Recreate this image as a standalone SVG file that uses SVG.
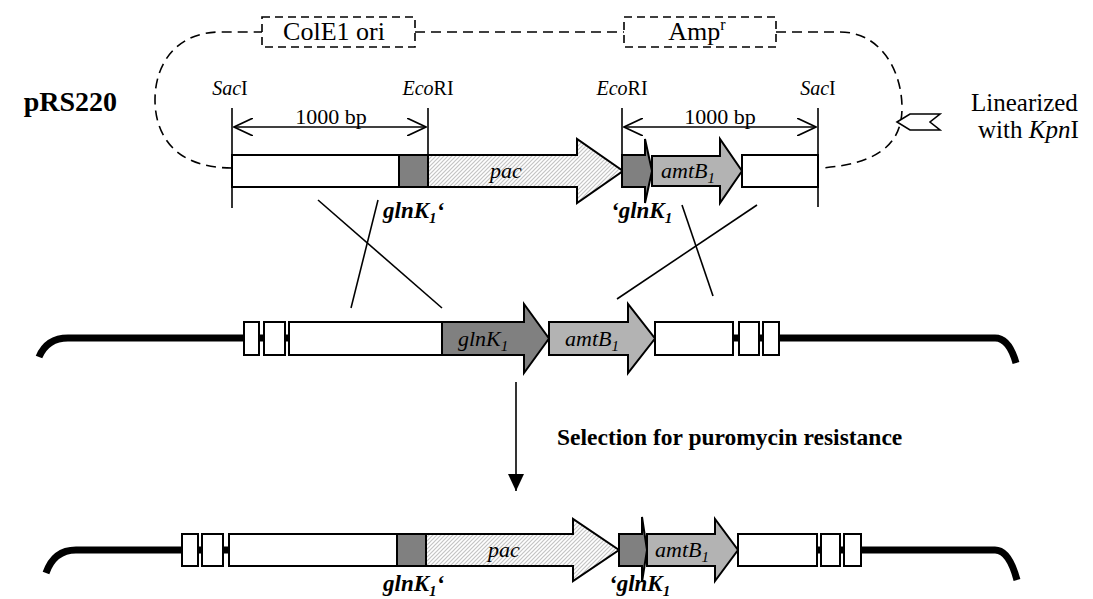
<svg xmlns="http://www.w3.org/2000/svg" width="1093" height="599" viewBox="0 0 1093 599" font-family="'Liberation Serif', 'Times New Roman', 'DejaVu Serif', serif">
<style>
text{font-family:'Liberation Serif','Times New Roman','DejaVu Serif',serif;fill:#000}
.box{fill:#fff;stroke:#000;stroke-width:2}
.dark{fill:#808080;stroke:#000;stroke-width:2}
.light{fill:#b3b3b3;stroke:#000;stroke-width:2}
.hatch{fill:url(#hatch);stroke:#000;stroke-width:2}
.dash{fill:none;stroke:#000;stroke-width:1.6;stroke-dasharray:10 6}
.dbox{fill:#fff;stroke:#000;stroke-width:1.6;stroke-dasharray:8 5}
.ln{fill:none;stroke:#000;stroke-width:1.6}
.thick{fill:none;stroke:#000;stroke-width:7}
.gene{font-style:italic;font-size:22px}
.lab{font-size:20px}
.bl{font-weight:bold;font-style:italic;font-size:23px}
</style>
<defs>
<pattern id="hatch" patternUnits="userSpaceOnUse" width="4" height="4">
<rect width="4" height="4" fill="#fff"/>
<path d="M-1,1 L1,-1 M0,4 L4,0 M3,5 L5,3" stroke="#c4c4c4" stroke-width="1.2"/>
</pattern>
<marker id="v" viewBox="0 0 20 18" refX="19" refY="9" markerWidth="20" markerHeight="18" markerUnits="userSpaceOnUse" orient="auto-start-reverse">
<path d="M0,0 L19,9 L0,18" fill="none" stroke="#000" stroke-width="1.6"/>
</marker>
<marker id="tri" viewBox="0 0 17 16" refX="17" refY="8" markerWidth="17" markerHeight="16" markerUnits="userSpaceOnUse" orient="auto">
<path d="M0,0 L17,8 L0,16 Z" fill="#000"/>
</marker>
</defs>
<rect width="1093" height="599" fill="#fff"/>

<g id="plasmid-backbone">
<path class="dash" d="M232,168 C172,168 155,132 155,100 C155,60 180,32 220,32 L262,32"/>
<path class="dash" d="M415,32 L624,32"/>
<path class="dash" d="M776,32 L840,32 C880,32 902,70 902,108 C902,148 872,164 822,168"/>
</g>
<g id="cole1-ori">
<rect class="dbox" x="262" y="17" width="153" height="30"/>
<text x="334" y="40" font-size="26" text-anchor="middle">ColE1 ori</text>
</g>
<g id="ampr">
<rect class="dbox" x="624" y="17" width="152" height="30"/>
<text x="697" y="40" font-size="26" text-anchor="middle">Amp<tspan font-size="16" dy="-10">r</tspan></text>
</g>
<g id="prs220">
<text x="117" y="111" font-size="28" font-weight="bold" text-anchor="end">pRS220</text>
</g>
<g id="kpni">
<polygon points="897,122 910,114 940,114 930,122 940,130 910,130" fill="#fff" stroke="#000" stroke-width="1.6"/>
<text x="971" y="111" font-size="25">Linearized</text>
<text x="978" y="138" font-size="25">with <tspan font-style="italic">Kpn</tspan>I</text>
</g>

<g id="sites">
<line class="ln" x1="232" y1="108" x2="232" y2="208"/>
<line class="ln" x1="428" y1="108" x2="428" y2="155"/>
<line class="ln" x1="622" y1="108" x2="622" y2="155"/>
<line class="ln" x1="818" y1="108" x2="818" y2="207"/>
<text class="lab" x="230" y="95" text-anchor="middle"><tspan font-style="italic">Sac</tspan>I</text>
<text class="lab" x="428" y="95" text-anchor="middle"><tspan font-style="italic">Eco</tspan>RI</text>
<text class="lab" x="622" y="95" text-anchor="middle"><tspan font-style="italic">Eco</tspan>RI</text>
<text class="lab" x="818" y="95" text-anchor="middle"><tspan font-style="italic">Sac</tspan>I</text>
</g>
<g id="bp-left">
<line class="ln" x1="234" y1="127" x2="426" y2="127" marker-start="url(#v)" marker-end="url(#v)"/>
<text x="331" y="124" font-size="22" text-anchor="middle">1000 bp</text>
</g>
<g id="bp-right">
<line class="ln" x1="624" y1="127" x2="816" y2="127" marker-start="url(#v)" marker-end="url(#v)"/>
<text x="720" y="124" font-size="22" text-anchor="middle">1000 bp</text>
</g>

<g id="top-construct">
<rect class="box" x="232" y="155" width="167" height="32"/>
<rect class="dark" x="399" y="155" width="29" height="32"/>
<polygon class="hatch" points="428,155 577,155 577,139 623,171 577,203 577,187 428,187"/>
<text class="gene" x="506" y="178" text-anchor="middle">pac</text>
<polygon class="dark" points="622,155 645,155 645,139 652,171 645,203 645,187 622,187"/>
<polygon class="light" points="652,156 720,156 720,139 742,171 720,203 720,186 652,186"/>
<text class="gene" x="661" y="178">amtB<tspan font-size="15" dy="5">1</tspan></text>
<rect class="box" x="742" y="155" width="76" height="32"/>
<text class="bl" x="383" y="218">glnK<tspan font-size="15" dy="5">1</tspan><tspan dy="-5">‘</tspan></text>
<text class="bl" x="611" y="218">‘glnK<tspan font-size="15" dy="5">1</tspan></text>
</g>

<g id="connectors">
<line class="ln" x1="318" y1="200" x2="442" y2="308"/>
<line class="ln" x1="378" y1="200" x2="351" y2="308"/>
<line class="ln" x1="682" y1="205" x2="713" y2="296"/>
<line class="ln" x1="757" y1="205" x2="617" y2="299"/>
<line class="ln" x1="516" y1="382" x2="516" y2="491" marker-end="url(#tri)"/>
</g>

<g id="chromosome">
<path class="thick" d="M39,357 Q47,338 68,338 L244,338"/>
<path class="thick" d="M255,338 L292,338"/>
<path class="thick" d="M730,338 L995,338 Q1009,338 1016,363"/>
<rect class="box" x="244" y="322" width="15" height="33"/>
<rect class="box" x="264" y="322" width="21" height="33"/>
<rect class="box" x="289" y="322" width="153" height="33"/>
<polygon class="dark" points="442,322 524,322 524,304 549,338.5 524,373 524,355 442,355"/>
<text class="gene" x="458" y="346">glnK<tspan font-size="15" dy="5">1</tspan></text>
<polygon class="light" points="549,322 628,322 628,304 655,338.5 628,373 628,355 549,355"/>
<text class="gene" x="565" y="346">amtB<tspan font-size="15" dy="5">1</tspan></text>
<rect class="box" x="655" y="322" width="78" height="33"/>
<rect class="box" x="739" y="322" width="20" height="33"/>
<rect class="box" x="763" y="322" width="16" height="33"/>
</g>

<g id="selection">
<text x="557" y="445" font-size="23.5" font-weight="bold">Selection for puromycin resistance</text>
</g>

<g id="recombinant">
<path class="thick" d="M46,573 Q54,550 76,550 L185,550"/>
<path class="thick" d="M195,550 L230,550"/>
<path class="thick" d="M815,550 L995,550 Q1009,550 1017,580"/>
<rect class="box" x="182" y="534" width="16" height="32"/>
<rect class="box" x="202" y="534" width="21" height="32"/>
<rect class="box" x="229" y="534" width="168" height="32"/>
<rect class="dark" x="397" y="534" width="29" height="32"/>
<polygon class="hatch" points="426,534 573,534 573,519 619,550 573,581 573,566 426,566"/>
<text class="gene" x="504" y="557" text-anchor="middle">pac</text>
<polygon class="dark" points="619,534 642,534 642,517 647,550 642,582 642,566 619,566"/>
<polygon class="light" points="647,534 715,534 715,519 738,550 715,581 715,566 647,566"/>
<text class="gene" x="655" y="557">amtB<tspan font-size="15" dy="5">1</tspan></text>
<rect class="box" x="738" y="534" width="79" height="32"/>
<rect class="box" x="821" y="534" width="19" height="32"/>
<rect class="box" x="844" y="534" width="17" height="32"/>
<text class="bl" x="383" y="591">glnK<tspan font-size="15" dy="5">1</tspan><tspan dy="-5">‘</tspan></text>
<text class="bl" x="609" y="591">‘glnK<tspan font-size="15" dy="5">1</tspan></text>
</g>
</svg>
